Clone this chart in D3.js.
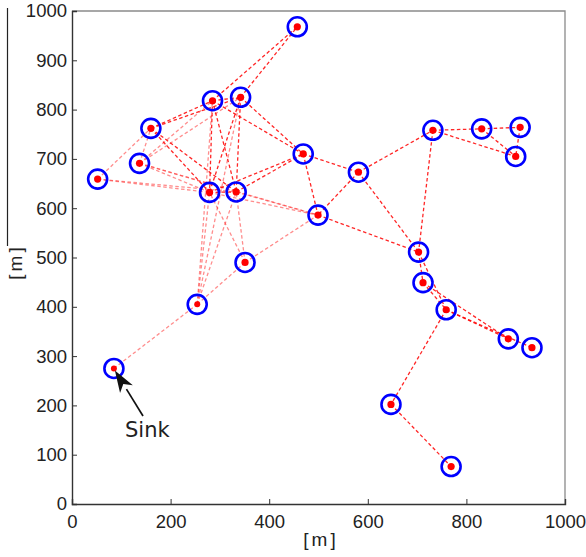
<!DOCTYPE html>
<html>
<head>
<meta charset="utf-8">
<script src="https://cdn.jsdelivr.net/npm/d3@7"></script>
<style>
  html, body { margin: 0; padding: 0; background: #fff; }
  svg { display: block; }
  text { font-family: "Liberation Sans", Arial, sans-serif; fill: #222; }
</style>
</head>
<body>
<svg id="chart" width="586" height="557"></svg>
<script>
// Sensor node positions in metres; node 1 is the sink
const nodeIds = [1, 2, 3, 4, 5, 6, 7, 8, 9, 10, 11, 12, 13, 14, 15, 16, 17, 18, 19, 20, 21, 22, 23, 24, 25];
const nodeX = [85, 254, 351, 52, 137, 160, 285, 342, 279, 333, 457, 469, 581, 499, 732, 831, 909, 900, 703, 712, 759, 885, 933, 647, 769];
const nodeY = [275, 405, 490, 659, 691, 762, 818, 825, 632, 633, 968, 710, 673, 586, 758, 761, 764, 705, 511, 449, 394, 335, 317, 202, 76];

// Radio links between nodes: strong links and weak (faint) links
const strongLinks = [
  [7, 11], [8, 11], [7, 8], [6, 7], [6, 8], [6, 9], [6, 10], [7, 9], [7, 10], [8, 9], [8, 10],
  [8, 12], [7, 12], [10, 12], [9, 12], [9, 10], [12, 13], [12, 14], [13, 14], [13, 15],
  [13, 19], [14, 19], [15, 19], [15, 16], [16, 17], [15, 18], [16, 18], [17, 18],
  [19, 20], [19, 21], [20, 21], [20, 22], [21, 22], [21, 23], [21, 24], [24, 25]
];
const weakLinks = [
  [1, 2], [2, 9], [2, 7], [2, 10], [2, 8], [2, 3], [3, 9], [3, 10], [3, 14],
  [4, 6], [4, 9], [4, 10], [5, 6], [5, 7], [5, 8], [5, 9], [5, 10], [5, 14], [9, 14], [10, 14]
];

const xTicks = [0, 200, 400, 600, 800, 1000];
const yTicks = [0, 100, 200, 300, 400, 500, 600, 700, 800, 900, 1000];

const nodes = nodeIds.map((id, i) => ({ id, x: nodeX[i], y: nodeY[i] }));
const byId = new Map(nodes.map(d => [d.id, d]));

const svg = d3.select("#chart");
const x = d3.scaleLinear().domain([0, 1000]).range([72, 565]);
const y = d3.scaleLinear().domain([0, 1000]).range([504, 11]);

// box outline (top and right edges)
svg.append("path")
  .attr("d", `M${x(0)},${y(1000)}H${x(1000)}V${y(0)}`)
  .attr("fill", "none").attr("stroke", "#8a8a8a").attr("stroke-width", 1.3);

// links
const linkG = svg.append("g");
function drawLinks(list, color, opacity) {
  linkG.selectAll(null).data(list).enter().append("line")
    .attr("x1", d => x(byId.get(d[0]).x)).attr("y1", d => y(byId.get(d[0]).y))
    .attr("x2", d => x(byId.get(d[1]).x)).attr("y2", d => y(byId.get(d[1]).y))
    .attr("stroke", color).attr("stroke-opacity", opacity)
    .attr("stroke-width", 1.3).attr("stroke-dasharray", "3.5,2.5");
}
drawLinks(weakLinks, "#ff3030", 0.55);
drawLinks(strongLinks, "#ff0000", 0.85);

// nodes: blue ring with red centre dot
svg.append("g").selectAll("circle").data(nodes).enter().append("circle")
  .attr("cx", d => x(d.x)).attr("cy", d => y(d.y)).attr("r", 9.5)
  .attr("fill", "none").attr("stroke", "#0000ff").attr("stroke-width", 2.6);
svg.append("g").selectAll("circle").data(nodes).enter().append("circle")
  .attr("cx", d => x(d.x)).attr("cy", d => y(d.y)).attr("r", d => d.id <= 2 ? 3 : 3.6)
  .attr("fill", "#ff0000");

// axes with inward ticks
const xAxis = svg.append("g").attr("transform", `translate(0,${y(0)})`)
  .call(d3.axisBottom(x).tickValues(xTicks).tickSize(-5).tickPadding(11).tickFormat(d3.format("d")));
const yAxis = svg.append("g").attr("transform", `translate(${x(0)},0)`)
  .call(d3.axisLeft(y).tickValues(yTicks).tickSize(-5).tickPadding(5).tickFormat(d3.format("d")));
[xAxis, yAxis].forEach(a => {
  a.select(".domain").attr("stroke", "#333").attr("stroke-width", 1.4);
  a.selectAll(".tick line").attr("stroke", "#333").attr("stroke-width", 1);
  a.selectAll(".tick text").attr("font-size", 18.5).attr("fill", "#222")
    .style("font-family", "'Liberation Sans', Arial, sans-serif");
});

// axis labels
svg.append("text").attr("x", 321).attr("y", 546).attr("text-anchor", "middle")
  .attr("font-size", 19).style("letter-spacing", "3px").text("[m]");
svg.append("text").attr("transform", "translate(22,262) rotate(-90)").attr("text-anchor", "middle")
  .attr("font-size", 19).style("letter-spacing", "3px").text("[m]");
svg.append("line").attr("x1", 7.5).attr("x2", 7.5).attr("y1", 8).attr("y2", 246)
  .attr("stroke", "#222").attr("stroke-width", 1.2);

// sink annotation
const sink = byId.get(1);
const tipX = x(sink.x) + 1, tipY = y(sink.y) + 2;
const baseX = 143, baseY = 416;
const ang = Math.atan2(tipY - baseY, tipX - baseX);
const headLen = 22, headW = 7.5;
const hx = tipX - headLen * Math.cos(ang), hy = tipY - headLen * Math.sin(ang);
svg.append("line").attr("x1", baseX).attr("y1", baseY).attr("x2", hx).attr("y2", hy)
  .attr("stroke", "#111").attr("stroke-width", 1.7);
svg.append("path")
  .attr("d", `M${tipX},${tipY}L${hx + headW * Math.sin(ang)},${hy - headW * Math.cos(ang)}` +
             `L${hx + 6 * Math.cos(ang)},${hy + 6 * Math.sin(ang)}` +
             `L${hx - headW * Math.sin(ang)},${hy + headW * Math.cos(ang)}Z`)
  .attr("fill", "#111");
svg.append("text").attr("x", 125).attr("y", 437).attr("font-size", 21)
  .style("font-family", "'DejaVu Sans', sans-serif").text("Sink");
</script>
</body>
</html>
